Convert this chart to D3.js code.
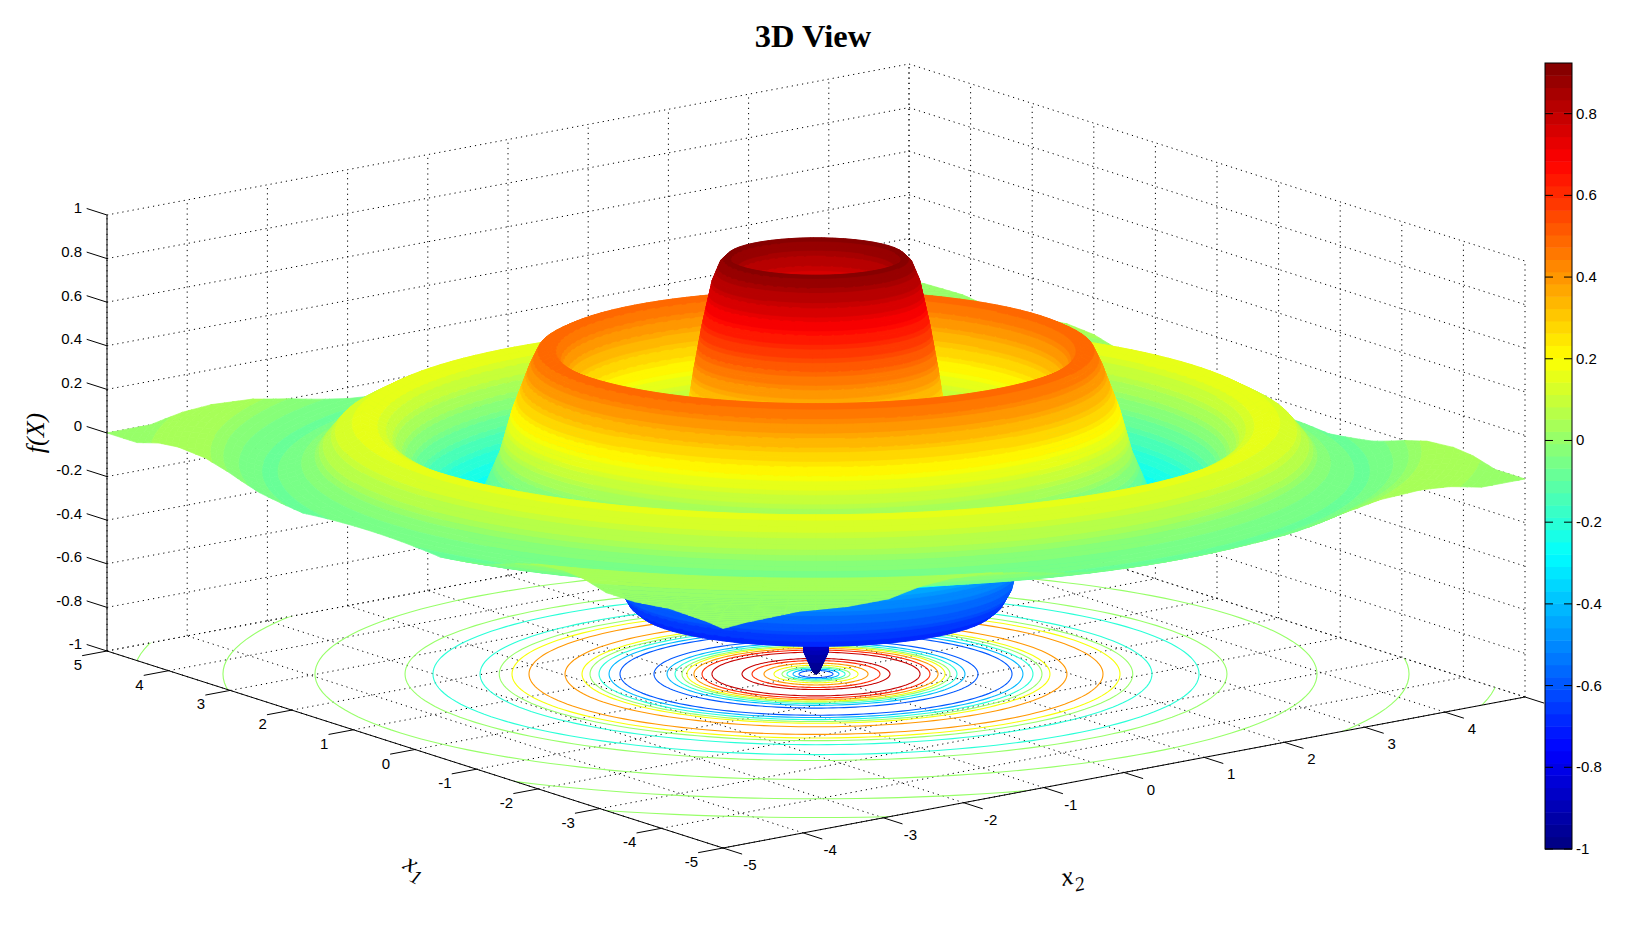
<!DOCTYPE html>
<html>
<head>
<meta charset="utf-8">
<title>3D View</title>
<script src="https://cdn.jsdelivr.net/npm/d3@7"></script>
<style>
  html, body { margin: 0; background: #fff; }
  svg { display: block; font-family: "Liberation Sans", Arial, sans-serif; }
</style>
</head>
<body>
<script>
// radial profile (contour crossings + ring heights)
const profileRho = [0, .03, .06, .12, .168, .227, .287, .336, .415, .514, .632, .731, .80, .88, .95, 1.028, 1.126, 1.206, 1.275, 1.324, 1.393, 1.472, 1.601, 1.68, 1.77, 1.85, 1.937, 2.045, 2.144, 2.233, 2.312, 2.48, 2.57, 2.66, 2.75, 2.836, 3.004, 3.13, 3.32, 3.45, 3.55, 3.65, 3.785, 4.061, 4.25, 4.5, 4.75, 4.951, 5.15, 5.4, 5.63, 5.86, 6.05, 6.3, 6.5, 6.739, 7.07, 7.5, 8.0, 8.4];
const profileZ = [-1, -.99, -.96, -.9, -.6, -.4, -.2, 0, .2, .4, .6, .8, .885, .915, .885, .8, .6, .4, .2, 0, -.2, -.4, -.6, -.67, -.7, -.67, -.6, -.4, -.2, 0, .2, .4, .48, .5, .48, .4, .2, 0, -.2, -.25, -.27, -.25, -.2, 0, .12, .17, .11, 0, -.05, -.08, -.05, 0, .03, .04, .03, 0, 0, .02, .015, 0];

// contour rings on the floor
const contourLevels = [-.6, -.4, -.2, 0, .2, .4, .6, .8, .8, .6, .4, .2, 0, -.2, -.4, -.6, -.6, -.4, -.2, 0, .2, .4, .4, .2, 0, -.2, -.2, 0, 0, 0, 0];
const contourRadii = [.168, .227, .287, .336, .415, .514, .632, .731, 1.028, 1.126, 1.206, 1.275, 1.324, 1.393, 1.472, 1.601, 1.937, 2.045, 2.144, 2.233, 2.312, 2.48, 2.836, 3.004, 3.13, 3.32, 3.785, 4.061, 4.951, 5.86, 6.739];

const xTicks = [-5, -4, -3, -2, -1, 0, 1, 2, 3, 4, 5];
const x2Labels = [-5, -4, -3, -2, -1, 0, 1, 2, 3, 4];
const zTicks = [-1, -.8, -.6, -.4, -.2, 0, .2, .4, .6, .8, 1];
const barTicks = [-1, -.8, -.6, -.4, -.2, 0, .2, .4, .6, .8];

const width = 1632;
const height = 945;

// box corners on the page, z = -1 level
const front = [723, 848];
const left = [107, 651];
const right = [1525, 697];

const u = d3.scaleLinear().domain([-5, 5]).range([0, 1]);
const zPx = d3.scaleLinear().domain([-1, 1]).range([0, -436]);

function project(x1, x2, z) {
  return [
    front[0] + u(x1) * (left[0] - front[0]) + u(x2) * (right[0] - front[0]),
    front[1] + u(x1) * (left[1] - front[1]) + u(x2) * (right[1] - front[1]) + zPx(z)
  ];
}

// floor offset from the box centre per unit of x1, x2
const ax = (left[0] - front[0]) / 10, bx = (right[0] - front[0]) / 10;
const ay = (left[1] - front[1]) / 10, by = (right[1] - front[1]) / 10;
const det = ax * by - bx * ay;

// rings on the page are ellipses, wide 101px per unit and flatter than the box
const ringX = 101.2;
const ringY = 21.3;

function rhoOf(x1, x2) {
  const sx = ax * x1 + bx * x2, sy = ay * x1 + by * x2;
  return Math.hypot(sx / ringX, sy / ringY);
}
function fromRing(rho, t) {
  const sx = rho * ringX * Math.cos(t), sy = rho * ringY * Math.sin(t);
  return [(sx * by - bx * sy) / det, (ax * sy - ay * sx) / det];
}

const profile = d3.scaleLinear().domain(profileRho).range(profileZ).clamp(true);

// jet, 64 steps
const clim = [-1, .924];
const jetRamp = d3.scaleLinear()
  .domain([0, .125, .375, .625, .875, 1])
  .range(['#00007f', '#0000ff', '#00ffff', '#ffff00', '#ff0000', '#7f0000']);
const jetColors = d3.range(64).map(i => jetRamp((i + .5) / 64));
const jet = d3.scaleQuantize().domain(clim).range(jetColors);

const svg = d3.select('body').append('svg')
  .attr('width', width)
  .attr('height', height)
  .attr('viewBox', [0, 0, width, height]);

const line = d3.line();

// dotted grid on floor and the two back walls
const gridLines = [];
xTicks.forEach(k => {
  gridLines.push([project(k, -5, -1), project(k, 5, -1)]);
  gridLines.push([project(-5, k, -1), project(5, k, -1)]);
  gridLines.push([project(5, k, -1), project(5, k, 1)]);
  gridLines.push([project(k, 5, -1), project(k, 5, 1)]);
});
zTicks.forEach(k => {
  gridLines.push([project(5, -5, k), project(5, 5, k)]);
  gridLines.push([project(5, 5, k), project(-5, 5, k)]);
});
svg.append('g')
  .attr('fill', 'none')
  .attr('stroke', '#000')
  .attr('stroke-width', 1)
  .attr('stroke-dasharray', '1.2,4')
  .selectAll('path')
  .data(gridLines)
  .join('path')
  .attr('d', line);

// floor contours
svg.append('clipPath').attr('id', 'floor')
  .append('path')
  .attr('d', line([project(-5, -5, -1), project(5, -5, -1), project(5, 5, -1), project(-5, 5, -1)]) + 'Z');

const ringAngles = d3.range(0, 2 * Math.PI, Math.PI / 90);
svg.append('g')
  .attr('clip-path', 'url(#floor)')
  .attr('fill', 'none')
  .attr('stroke-width', 1.1)
  .selectAll('path')
  .data(contourRadii)
  .join('path')
  .attr('stroke', (d, i) => jet(contourLevels[i]))
  .attr('d', d => line(ringAngles.map(t => {
    const p = fromRing(d, t);
    return project(p[0], p[1], -1);
  })) + 'Z');

// cut a floor polygon down to the box
function clipBox(poly) {
  const edges = [[0, 1, 5], [0, -1, 5], [1, 1, 5], [1, -1, 5]];
  edges.forEach(([axis, sign, lim]) => {
    const out = [];
    poly.forEach((a, i) => {
      const b = poly[(i + 1) % poly.length];
      const ina = sign * a[axis] <= lim, inb = sign * b[axis] <= lim;
      if (ina) out.push(a);
      if (ina !== inb) {
        const t = (lim - sign * a[axis]) / (sign * b[axis] - sign * a[axis]);
        out.push([a[0] + t * (b[0] - a[0]), a[1] + t * (b[1] - a[1])]);
      }
    });
    poly = out;
  });
  return poly;
}

// rows of the surface grid: close enough that steep walls keep their colour bands
const rhoSteps = [0];
profileRho.slice(1).forEach((r, i) => {
  const r0 = profileRho[i];
  const n = Math.ceil(Math.max(Math.abs(profileZ[i + 1] - profileZ[i]) / .022, (r - r0) / .09));
  d3.range(1, n + 1).forEach(k => rhoSteps.push(r0 + (r - r0) * k / n));
});

// surface cells on a ring grid, painted back to front
const cells = [];
rhoSteps.slice(1).forEach((r1, i) => {
  const r0 = rhoSteps[i];
  const rm = (r0 + r1) / 2;
  const n = Math.min(156, Math.ceil(24 + 30 * rm));
  const dt = 2 * Math.PI / n;
  d3.range(n).forEach(j => {
    const t0 = j * dt, t1 = t0 + dt * 1.02;
    const poly = clipBox([fromRing(r0, t0), fromRing(r1, t0), fromRing(r1, t1), fromRing(r0, t1)]);
    if (poly.length < 3) return;
    const mid = fromRing(rm, t0 + dt / 2);
    const zMid = profile(rm);
    cells.push({
      pts: poly.map(p => project(p[0], p[1], profile(rhoOf(p[0], p[1])))),
      z: zMid,
      depth: (ay * mid[0] + by * mid[1]) * 4 + zMid * 218 * .25
    });
  });
});
cells.sort((a, b) => a.depth - b.depth);

svg.append('g')
  .attr('stroke-width', .7)
  .selectAll('path')
  .data(cells)
  .join('path')
  .attr('d', d => line(d.pts) + 'Z')
  .attr('fill', d => jet(d.z))
  .attr('stroke', d => jet(d.z));

// solid axes and ticks
const axisG = svg.append('g').attr('stroke', '#000').attr('stroke-width', 1).attr('fill', 'none');
axisG.append('path').attr('d', line([project(5, -5, 1), project(5, -5, -1), project(-5, -5, -1), project(-5, 5, -1)]));
axisG.selectAll('.zt').data(zTicks).join('path').attr('class', 'zt')
  .attr('d', d => line([project(5, -5, d), project(5.33, -5, d)]));
axisG.selectAll('.x1t').data(xTicks).join('path').attr('class', 'x1t')
  .attr('d', d => line([project(d, -5, -1), project(d, -5.31, -1)]));
axisG.selectAll('.x2t').data(xTicks).join('path').attr('class', 'x2t')
  .attr('d', d => line([project(-5, d, -1), project(-5.31, d, -1)]));

const labels = svg.append('g').attr('font-size', 15).attr('fill', '#000');
labels.selectAll('.zl').data(zTicks).join('text').attr('class', 'zl')
  .attr('text-anchor', 'end')
  .attr('x', 82)
  .attr('y', d => project(5.33, -5, d)[1] + 5)
  .text(d => d);
labels.selectAll('.x1l').data(xTicks).join('text').attr('class', 'x1l')
  .attr('text-anchor', 'end')
  .attr('x', d => project(d, -5, -1)[0] - 25)
  .attr('y', d => project(d, -5, -1)[1] + 19)
  .text(d => d);
labels.selectAll('.x2l').data(x2Labels).join('text').attr('class', 'x2l')
  .attr('text-anchor', 'middle')
  .attr('x', d => project(-5, d, -1)[0] + 27)
  .attr('y', d => project(-5, d, -1)[1] + 22)
  .text(d => d);

// title and axis names
const serif = '"Liberation Serif", "Times New Roman", serif';
svg.append('text')
  .attr('x', 813).attr('y', 47)
  .attr('text-anchor', 'middle')
  .attr('font-family', serif)
  .attr('font-weight', 'bold')
  .attr('font-size', 32.5)
  .text('3D View');

svg.append('text')
  .attr('transform', 'translate(44,433) rotate(-90)')
  .attr('text-anchor', 'middle')
  .attr('font-family', serif)
  .attr('font-style', 'italic')
  .attr('font-size', 26)
  .text('f(X)');

const x1Label = svg.append('text')
  .attr('transform', 'translate(402,868) rotate(28)')
  .attr('font-family', serif)
  .attr('font-style', 'italic')
  .attr('font-size', 26);
x1Label.append('tspan').text('x');
x1Label.append('tspan').attr('dy', 8).attr('font-size', 20).text('1');

const x2Label = svg.append('text')
  .attr('transform', 'translate(1063,886) rotate(-12)')
  .attr('font-family', serif)
  .attr('font-style', 'italic')
  .attr('font-size', 26);
x2Label.append('tspan').text('x');
x2Label.append('tspan').attr('dy', 8).attr('font-size', 20).text('2');

// colorbar
const barX = 1545, barW = 27;
const barY = d3.scaleLinear().domain(clim).range([849, 63]);
const barSteps = d3.range(64);
const barG = svg.append('g');
barG.selectAll('rect').data(barSteps).join('rect')
  .attr('x', barX)
  .attr('width', barW)
  .attr('y', d => barY(clim[0] + (d + 1) * (clim[1] - clim[0]) / 64))
  .attr('height', (barY.range()[0] - barY.range()[1]) / 64 + .5)
  .attr('fill', d => jetColors[d]);
barG.append('rect')
  .attr('x', barX).attr('y', 63)
  .attr('width', barW).attr('height', 786)
  .attr('fill', 'none').attr('stroke', '#000');
barG.selectAll('.bt').data(barTicks).join('path').attr('class', 'bt')
  .attr('stroke', '#000')
  .attr('fill', 'none')
  .attr('d', d => `M${barX},${barY(d)}h8M${barX + barW},${barY(d)}h-8`);
barG.selectAll('text').data(barTicks).join('text')
  .attr('x', barX + barW + 4)
  .attr('y', d => barY(d) + 5)
  .attr('font-size', 15)
  .text(d => d);
</script>
</body>
</html>
